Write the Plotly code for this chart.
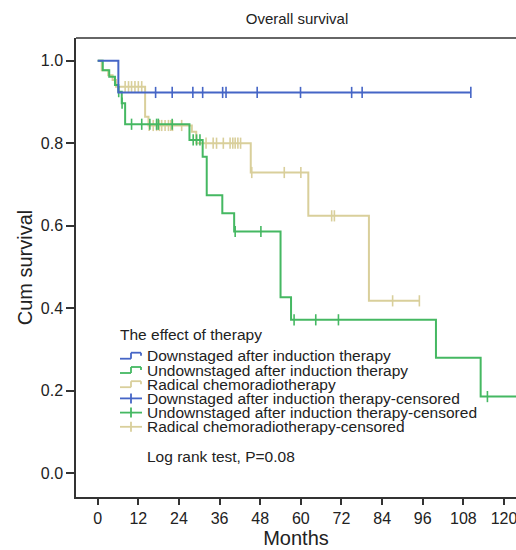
import numpy as np
import plotly.graph_objects as go

# ---------------- data ----------------
x_ticks = [0, 12, 24, 36, 48, 60, 72, 84, 96, 108, 120]
y_ticks = [0.0, 0.2, 0.4, 0.6, 0.8, 1.0]

group_names = ["Downstaged after induction therapy",
               "Undownstaged after induction therapy",
               "Radical chemoradiotherapy"]

blue_times = [6.1]
blue_surv = [0.923]
blue_end = 110.2
blue_cens = [17.1, 22.0, 28.1, 31.0, 36.9, 37.9, 47.1, 59.9, 75.0, 78.1, 110.2]

green_times = [1.5, 3.4, 5.1, 6.1, 7.1, 8.1, 27.1, 31.0, 32.2, 36.8, 40.3,
               54.0, 57.1, 99.9, 113.1]
green_surv = [0.977, 0.961, 0.941, 0.925, 0.897, 0.846, 0.808, 0.767, 0.674,
              0.630, 0.586, 0.427, 0.372, 0.280, 0.186]
green_end = 126.0
green_cens = [6.2, 7.2, 10.0, 13.0, 15.4, 17.4, 17.9, 22.0, 28.2, 29.2, 30.2,
              40.6, 48.2, 58.0, 64.4, 71.1, 115.1]

tan_times = [1.2, 3.1, 4.4, 5.4, 14.0, 15.0, 27.8, 29.1, 45.2, 62.2, 80.1]
tan_surv = [0.977, 0.965, 0.953, 0.937, 0.864, 0.843, 0.828, 0.800, 0.729,
            0.624, 0.418]
tan_end = 95.0
tan_cens = [8.1, 9.1, 10.0, 11.0, 12.0, 13.0, 15.2, 16.4, 17.4, 18.2, 18.9,
            19.9, 20.9, 21.6, 22.1, 24.8, 32.0, 34.1, 35.1, 37.1, 39.1, 39.9,
            40.6, 41.4, 42.2, 45.5, 55.1, 60.0, 69.1, 69.9, 87.1, 95.0]

colors = ["#4565c6", "#45b862", "#d9cf9b"]
FONT = "Liberation Sans, Arial, Helvetica, sans-serif"
AX = "#333333"
LEG_FS = 15.5

W, H = 516, 550
L, R, T, B = 76, 0, 38, 53


def step_xy(times, surv, end):
    xs = [0.0] + list(times) + [end]
    ys = [1.0] + list(surv) + [surv[-1]]
    return xs, ys


def surv_at(times, surv, t):
    tt = np.asarray(times)
    ss = np.concatenate([[1.0], np.asarray(surv)])
    idx = np.searchsorted(tt, np.asarray(t), side="right")
    return ss[idx]


fig = go.Figure()
series = [(tan_times, tan_surv, tan_end, tan_cens, colors[2]),
          (green_times, green_surv, green_end, green_cens, colors[1]),
          (blue_times, blue_surv, blue_end, blue_cens, colors[0])]
for times, surv, end, cens, col in series:
    xs, ys = step_xy(times, surv, end)
    fig.add_trace(go.Scatter(x=xs, y=ys, mode="lines", line=dict(shape="hv", color=col, width=2),
                             showlegend=False, hoverinfo="skip"))
    fig.add_trace(go.Scatter(x=cens, y=surv_at(times, surv, cens), mode="markers",
                             marker=dict(symbol="line-ns", size=8, line=dict(color=col, width=1.6)),
                             showlegend=False, hoverinfo="skip"))


def px2x(px):
    return (px - L) / (W - L - R)


def py2y(py):
    return (H - B - py) / (H - T - B)


shapes = [dict(type="line", xref="paper", yref="paper", x0=0, x1=1, y0=1, y1=1,
               line=dict(color=AX, width=1.5))]
annotations = []

# legend title
annotations.append(dict(text="The effect of therapy", x=px2x(118), y=py2y(334), xref="paper", yref="paper",
                        xanchor="left", yanchor="middle", showarrow=False,
                        font=dict(family=FONT, size=LEG_FS, color="#222")))
entry_y = [355.7, 370, 384.2, 398.4, 412.6, 426.8]
labels = group_names + [g + "-censored" for g in group_names]
for i, (lab, ey) in enumerate(zip(labels, entry_y)):
    col = colors[i % 3]
    annotations.append(dict(text=lab, x=px2x(145), y=py2y(ey), xref="paper", yref="paper",
                            xanchor="left", yanchor="middle", showarrow=False,
                            font=dict(family=FONT, size=LEG_FS, color="#222")))
    if i < 3:
        segs = [(120, ey + 3, 131, ey + 3), (131, ey + 3, 131, ey - 3),
                (131, ey - 3, 141, ey - 3), (141, ey - 3, 141, ey)]
    else:
        segs = [(120, ey, 142, ey), (131, ey - 5, 131, ey + 5)]
    for x0, y0, x1, y1 in segs:
        shapes.append(dict(type="line", xref="paper", yref="paper",
                           x0=px2x(x0), x1=px2x(x1), y0=py2y(y0), y1=py2y(y1),
                           line=dict(color=col, width=1.8)))

annotations.append(dict(text="Log rank test, P=0.08", x=px2x(145), y=py2y(456), xref="paper", yref="paper",
                        xanchor="left", yanchor="middle", showarrow=False,
                        font=dict(family=FONT, size=LEG_FS, color="#222")))

fig.update_layout(
    width=W, height=H,
    margin=dict(l=L, r=R, t=T, b=B, pad=0),
    paper_bgcolor="white", plot_bgcolor="white",
    title=dict(text="Overall survival", x=297 / W, xanchor="center", xref="container",
               y=1 - 19 / H, yref="container", yanchor="middle",
               font=dict(family=FONT, size=15, color="#222")),
    shapes=shapes, annotations=annotations,
    font=dict(family=FONT, color="#222"),
)
fig.update_xaxes(range=[-6.41, 123.54], tickvals=x_ticks, ticktext=[str(v) for v in x_ticks],
                 showline=True, linecolor=AX, linewidth=1.5, ticks="outside", ticklen=6,
                 tickwidth=1.5, tickcolor=AX, showgrid=False, zeroline=False,
                 ticklabeloverflow="allow",
                 tickfont=dict(family=FONT, size=16, color="#222"),
                 title=dict(text="Months", font=dict(family=FONT, size=20, color="#222"), standoff=2))
fig.update_yaxes(range=[-0.0574, 1.055], tickvals=y_ticks, ticktext=["%.1f" % v for v in y_ticks],
                 showline=True, linecolor=AX, linewidth=1.5, ticks="outside", ticklen=8,
                 tickwidth=1.5, tickcolor=AX, showgrid=False, zeroline=False,
                 tickfont=dict(family=FONT, size=16, color="#222"),
                 title=dict(text="Cum survival", font=dict(family=FONT, size=20, color="#222"), standoff=3))

fig.write_html("out.html", config={"displayModeBar": False},
               post_script="document.body.style.margin='0';document.body.style.overflow='hidden';")
